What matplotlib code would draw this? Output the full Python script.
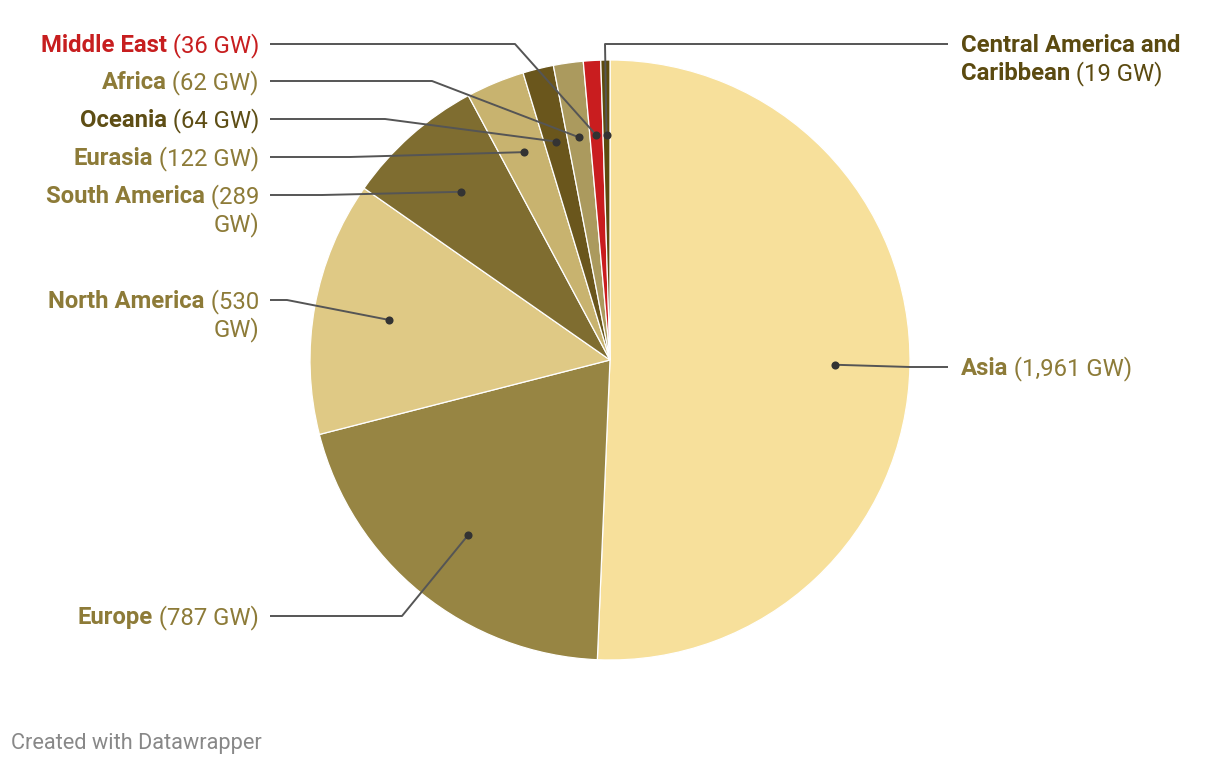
import matplotlib
matplotlib.use("Agg")
import matplotlib.pyplot as plt
import numpy as np

plt.rcParams["font.family"] = ["Roboto", "DejaVu Sans"]

# data (clockwise from 12 o'clock)
regions = ["Asia", "Europe", "North America", "South America", "Eurasia",
           "Oceania", "Africa", "Middle East", "Central America and Caribbean"]
capacity_gw = [1961, 787, 530, 289, 122, 64, 62, 36, 19]

slice_colors = ["#f7e09b", "#978543", "#dfc985", "#7f6d30", "#c8b36f",
                "#6a561c", "#ab9a5e", "#c91d1f", "#5c4b0e"]
OLIVE = "#8d7b38"
label_colors = [OLIVE, OLIVE, OLIVE, OLIVE, OLIVE, "#5e4e15", OLIVE, "#c71e1f", "#5b4a10"]

W, H = 1220, 766
CX, CY, R = 610, 360, 300
LINE = "#555555"
DOT = "#333333"


def Y(y):
    return H - y


fig = plt.figure(figsize=(W / 100, H / 100), dpi=100, facecolor="white")
ax = fig.add_axes([0, 0, 1, 1])
wedges, _ = ax.pie(capacity_gw, colors=slice_colors, startangle=90, counterclock=False,
                   center=(CX, Y(CY)), radius=R,
                   wedgeprops=dict(edgecolor="white", linewidth=0.9))
ax.set_xlim(0, W)
ax.set_ylim(0, H)
ax.set_aspect("equal")
ax.axis("off")

# label layout: (side, first line y, elbow x, lines)
# each line: list of (text, bold)
layout = {
    "Asia": ("R", 367, 910, [[("Asia", True), (" (1,961 GW)", False)]]),
    "Europe": ("L", 616, 402, [[("Europe", True), (" (787 GW)", False)]]),
    "North America": ("L", 300, 287, [[("North America", True), (" (530", False)], [("GW)", False)]]),
    "South America": ("L", 195, 322, [[("South America", True), (" (289", False)], [("GW)", False)]]),
    "Eurasia": ("L", 157, 350, [[("Eurasia", True), (" (122 GW)", False)]]),
    "Oceania": ("L", 119, 385, [[("Oceania", True), (" (64 GW)", False)]]),
    "Africa": ("L", 81, 432, [[("Africa", True), (" (62 GW)", False)]]),
    "Middle East": ("L", 44, 515, [[("Middle East", True), (" (36 GW)", False)]]),
    "Central America and Caribbean": ("R", 44, 605, [[("Central America and", True)],
                                                   [("Caribbean", True), (" (19 GW)", False)]]),
}

FS = 17.2
LINE_H = 28
fig.canvas.draw()
renderer = fig.canvas.get_renderer()


def rich_line(x, y, parts, color, ha):
    seq = parts if ha == "left" else list(reversed(parts))
    cur = x
    for text, bold in seq:
        t = ax.text(cur, Y(y + 1.5), text, ha=ha, va="center", fontsize=FS, color=color,
                    fontweight="bold" if bold else "normal")
        w = t.get_window_extent(renderer).width
        cur = cur + w if ha == "left" else cur - w


for i, (name, w) in enumerate(zip(regions, wedges)):
    side, ly, ex, lines = layout[name]
    mid = np.deg2rad((w.theta1 + w.theta2) / 2)
    dx = CX + 0.75 * R * np.cos(mid)
    dy = Y(CY) + 0.75 * R * np.sin(mid)
    if side == "L":
        x0, tx, ha = 270, 259, "right"
    else:
        x0, tx, ha = 948, 961, "left"
    ax.plot([x0, ex, dx], [Y(ly), Y(ly), dy], color=LINE, lw=1.4,
            solid_capstyle="butt", zorder=4)
    ax.scatter([dx], [dy], s=34, color=DOT, zorder=5, linewidths=0)
    for k, parts in enumerate(lines):
        rich_line(tx, ly + k * LINE_H, parts, label_colors[i], ha)

ax.text(11, Y(744), "Created with Datawrapper", ha="left", va="center",
        fontsize=15.7, color="#888888")

fig.savefig("out.png", dpi=100, facecolor="white")
